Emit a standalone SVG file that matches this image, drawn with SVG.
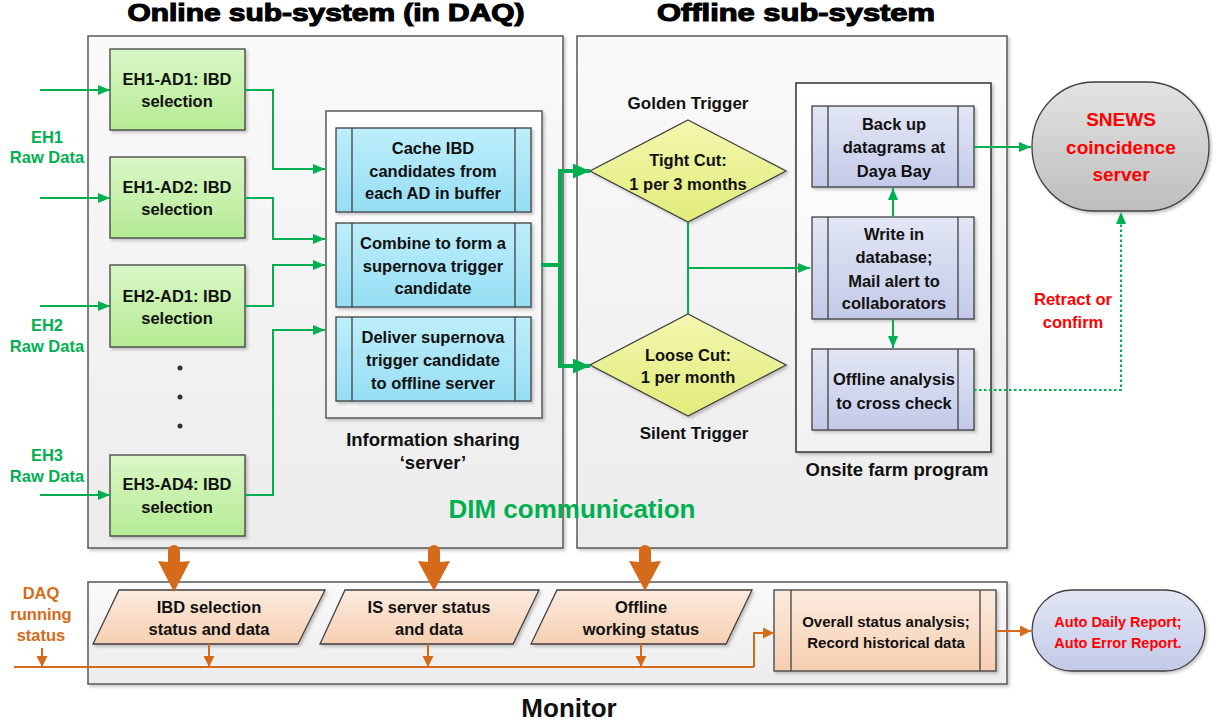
<svg xmlns="http://www.w3.org/2000/svg" width="1213" height="726" viewBox="0 0 1213 726">
<defs>
<style>
.t{font-family:"Liberation Sans",Arial,sans-serif;font-weight:bold;font-size:16.5px;text-anchor:middle;fill:#111}
.s15{font-size:15px}
.lbl{font-size:17px}
.lbl2{font-size:18.5px}
.g{fill:#00b050}
.o{fill:#d46a1a}
.r{fill:#ff0000}
.title{font-family:"Liberation Sans",Arial,sans-serif;font-weight:bold;font-size:23px;text-anchor:middle;fill:#000;stroke:#000;stroke-width:1.1}
.cont{stroke:#595959;stroke-width:1.5}
.box{stroke:#404040;stroke-width:1.3}
.in{stroke:#404040;stroke-width:1.3}
.gl{fill:none;stroke:#00b050;stroke-width:2}
.ol{fill:none;stroke:#d46a1a;stroke-width:2}
</style>
<linearGradient id="gCont" x1="0" y1="0" x2="0" y2="1"><stop offset="0" stop-color="#fafafa"/><stop offset="1" stop-color="#ececec"/></linearGradient>
<linearGradient id="gWhite" x1="0" y1="0" x2="0" y2="1"><stop offset="0" stop-color="#ffffff"/><stop offset="1" stop-color="#f2f2f2"/></linearGradient>
<linearGradient id="gGreen" x1="0" y1="0" x2="0" y2="1"><stop offset="0" stop-color="#d9f7c6"/><stop offset="1" stop-color="#b5eb93"/></linearGradient>
<linearGradient id="gBlue" x1="0" y1="0" x2="0" y2="1"><stop offset="0" stop-color="#bdeefa"/><stop offset="1" stop-color="#96def4"/></linearGradient>
<linearGradient id="gYel" x1="0" y1="0" x2="0" y2="1"><stop offset="0" stop-color="#f3f7b0"/><stop offset="1" stop-color="#e2ec7a"/></linearGradient>
<linearGradient id="gPur" x1="0" y1="0" x2="0" y2="1"><stop offset="0" stop-color="#e2e6f4"/><stop offset="1" stop-color="#c3cae8"/></linearGradient>
<linearGradient id="gOr" x1="0" y1="0" x2="0" y2="1"><stop offset="0" stop-color="#fcebde"/><stop offset="1" stop-color="#f6cfb1"/></linearGradient>
<linearGradient id="gGray" x1="0" y1="0" x2="0" y2="1"><stop offset="0" stop-color="#e3e3e3"/><stop offset="1" stop-color="#bdbdbd"/></linearGradient>
<filter id="sh" x="-10%" y="-10%" width="130%" height="130%"><feDropShadow dx="2" dy="2" stdDeviation="1.5" flood-color="#000" flood-opacity="0.22"/></filter>
<marker id="ga" markerUnits="userSpaceOnUse" markerWidth="13" markerHeight="12" refX="12" refY="5" orient="auto"><path d="M0,0 L12,5 L0,10 z" fill="#00b050"/></marker>
<marker id="gaB" markerUnits="userSpaceOnUse" markerWidth="18" markerHeight="16" refX="17" refY="7.5" orient="auto"><path d="M0,0 L17,7.5 L0,15 z" fill="#00b050"/></marker>
<marker id="oa" markerUnits="userSpaceOnUse" markerWidth="12" markerHeight="12" refX="11" refY="5.5" orient="auto"><path d="M0,0 L11,5.5 L0,11 z" fill="#d46a1a"/></marker>
</defs>
<rect width="1213" height="726" fill="#ffffff"/>

<!-- Titles -->
<text class="title" x="326" y="21" textLength="397" lengthAdjust="spacingAndGlyphs">Online sub-system (in DAQ)</text>
<text class="title" x="796" y="21" textLength="278" lengthAdjust="spacingAndGlyphs">Offline sub-system</text>

<!-- Containers -->
<g id="online">
<rect class="cont" x="88" y="36" width="475" height="512" fill="url(#gCont)" filter="url(#sh)"/>
</g>
<g id="offline">
<rect class="cont" x="577" y="36" width="430" height="512" fill="url(#gCont)" filter="url(#sh)"/>
</g>
<g id="monitor">
<rect class="cont" x="88" y="582" width="919" height="102" fill="url(#gCont)" filter="url(#sh)"/>
<text class="t" x="569" y="717" style="font-size:26px">Monitor</text>
</g>

<!-- Input labels -->
<g id="inputs">
<text class="t g" x="47" y="143">EH1</text>
<text class="t g" x="47" y="163">Raw Data</text>
<text class="t g" x="47" y="331">EH2</text>
<text class="t g" x="47" y="352">Raw Data</text>
<text class="t g" x="47" y="461">EH3</text>
<text class="t g" x="47" y="482">Raw Data</text>
</g>

<!-- Green selection boxes -->
<g id="eh1ad1">
<rect class="box" x="110" y="49" width="135" height="81" fill="url(#gGreen)" filter="url(#sh)"/>
<text class="t" x="177" y="85">EH1-AD1: IBD</text>
<text class="t" x="177" y="107">selection</text>
</g>
<g id="eh1ad2">
<rect class="box" x="110" y="157" width="135" height="81" fill="url(#gGreen)" filter="url(#sh)"/>
<text class="t" x="177" y="193">EH1-AD2: IBD</text>
<text class="t" x="177" y="215">selection</text>
</g>
<g id="eh2ad1">
<rect class="box" x="110" y="265" width="135" height="82" fill="url(#gGreen)" filter="url(#sh)"/>
<text class="t" x="177" y="302">EH2-AD1: IBD</text>
<text class="t" x="177" y="324">selection</text>
</g>
<g id="dots">
<circle cx="180" cy="368" r="2.5" fill="#333"/>
<circle cx="180" cy="397" r="2.5" fill="#333"/>
<circle cx="180" cy="426" r="2.5" fill="#333"/>
</g>
<g id="eh3ad4">
<rect class="box" x="110" y="455" width="135" height="81" fill="url(#gGreen)" filter="url(#sh)"/>
<text class="t" x="177" y="490">EH3-AD4: IBD</text>
<text class="t" x="177" y="513">selection</text>
</g>

<!-- Information sharing server -->
<g id="isserver">
<rect class="cont" x="326" y="111" width="216" height="307" fill="url(#gWhite)" filter="url(#sh)"/>
<text class="t lbl2" x="433" y="446">Information sharing</text>
<text class="t lbl2" x="433" y="469">‘server’</text>
</g>
<g id="cache">
<rect class="box" x="336" y="128" width="195" height="84" fill="url(#gBlue)" filter="url(#sh)"/>
<line class="in" x1="352" y1="128" x2="352" y2="212"/><line class="in" x1="515" y1="128" x2="515" y2="212"/>
<text class="t" x="433" y="154">Cache IBD</text>
<text class="t" x="433" y="177">candidates from</text>
<text class="t" x="433" y="199">each AD in buffer</text>
</g>
<g id="combine">
<rect class="box" x="336" y="223" width="195" height="84" fill="url(#gBlue)" filter="url(#sh)"/>
<line class="in" x1="352" y1="223" x2="352" y2="307"/><line class="in" x1="515" y1="223" x2="515" y2="307"/>
<text class="t" x="433" y="249">Combine to form a</text>
<text class="t" x="433" y="272">supernova trigger</text>
<text class="t" x="433" y="294">candidate</text>
</g>
<g id="deliver">
<rect class="box" x="336" y="317" width="195" height="84" fill="url(#gBlue)" filter="url(#sh)"/>
<line class="in" x1="352" y1="317" x2="352" y2="401"/><line class="in" x1="515" y1="317" x2="515" y2="401"/>
<text class="t" x="433" y="343">Deliver supernova</text>
<text class="t" x="433" y="366">trigger candidate</text>
<text class="t" x="433" y="389">to offline server</text>
</g>

<!-- Diamonds -->
<g id="tight">
<text class="t lbl" x="688" y="109">Golden Trigger</text>
<polygon class="box" points="688,120 786,171 688,222 590,171" fill="url(#gYel)" filter="url(#sh)"/>
<text class="t" x="688" y="166">Tight Cut:</text>
<text class="t" x="688" y="190">1 per 3 months</text>
</g>
<g id="loose">
<polygon class="box" points="688,314 786,365 688,416 590,365" fill="url(#gYel)" filter="url(#sh)"/>
<text class="t" x="688" y="361">Loose Cut:</text>
<text class="t" x="688" y="383">1 per month</text>
<text class="t lbl" x="694" y="439">Silent Trigger</text>
</g>

<!-- Onsite farm -->
<g id="onsite">
<rect x="796" y="83" width="195" height="369" fill="url(#gWhite)" stroke="#333" stroke-width="1.5" filter="url(#sh)"/>
<text class="t lbl2" x="897" y="476">Onsite farm program</text>
</g>
<g id="backup">
<rect class="box" x="812" y="106" width="162" height="81" fill="url(#gPur)" filter="url(#sh)"/>
<line class="in" x1="828" y1="106" x2="828" y2="187"/><line class="in" x1="958" y1="106" x2="958" y2="187"/>
<text class="t" x="894" y="130">Back up</text>
<text class="t" x="894" y="153">datagrams at</text>
<text class="t" x="894" y="177">Daya Bay</text>
</g>
<g id="write">
<rect class="box" x="812" y="217" width="162" height="102" fill="url(#gPur)" filter="url(#sh)"/>
<line class="in" x1="828" y1="217" x2="828" y2="319"/><line class="in" x1="958" y1="217" x2="958" y2="319"/>
<text class="t" x="894" y="240">Write in</text>
<text class="t" x="894" y="263">database;</text>
<text class="t" x="894" y="287">Mail alert to</text>
<text class="t" x="894" y="309">collaborators</text>
</g>
<g id="analysis">
<rect class="box" x="812" y="349" width="162" height="81" fill="url(#gPur)" filter="url(#sh)"/>
<line class="in" x1="828" y1="349" x2="828" y2="430"/><line class="in" x1="958" y1="349" x2="958" y2="430"/>
<text class="t" x="894" y="385">Offline analysis</text>
<text class="t" x="894" y="409">to cross check</text>
</g>

<!-- SNEWS -->
<g id="snews">
<rect x="1032" y="82" width="177" height="129" rx="62" ry="64" fill="url(#gGray)" stroke="#404040" stroke-width="1.3" filter="url(#sh)"/>
<text class="t r" x="1121" y="126" style="font-size:19px">SNEWS</text>
<text class="t r" x="1121" y="154" style="font-size:19px">coincidence</text>
<text class="t r" x="1121" y="181" style="font-size:19px">server</text>
</g>
<g id="retract">
<text class="t r" x="1073" y="305">Retract or</text>
<text class="t r" x="1073" y="328">confirm</text>
</g>

<!-- DIM -->
<text class="t g" x="572" y="518" style="font-size:26px">DIM communication</text>

<!-- Monitor items -->
<g id="daq">
<text class="t o" x="41" y="599">DAQ</text>
<text class="t o" x="41" y="620">running</text>
<text class="t o" x="41" y="641">status</text>
</g>
<g id="ibdstatus">
<polygon class="box" points="119,590 325,590 298,644 93,644" fill="url(#gOr)" filter="url(#sh)"/>
<text class="t" x="209" y="613">IBD selection</text>
<text class="t" x="209" y="635">status and data</text>
</g>
<g id="isstatus">
<polygon class="box" points="345,590 539,590 513,644 320,644" fill="url(#gOr)" filter="url(#sh)"/>
<text class="t" x="429" y="613">IS server status</text>
<text class="t" x="429" y="635">and data</text>
</g>
<g id="offstatus">
<polygon class="box" points="557,590 752,590 726,644 531,644" fill="url(#gOr)" filter="url(#sh)"/>
<text class="t" x="641" y="613">Offline</text>
<text class="t" x="641" y="635">working status</text>
</g>
<g id="overall">
<rect class="box" x="774" y="590" width="222" height="81" fill="url(#gOr)" filter="url(#sh)"/>
<line class="in" x1="791" y1="590" x2="791" y2="671"/><line class="in" x1="980" y1="590" x2="980" y2="671"/>
<text class="t s15" x="886" y="627">Overall status analysis;</text>
<text class="t s15" x="886" y="648">Record historical data</text>
</g>
<g id="autoreport">
<rect x="1032" y="590" width="173" height="81" rx="40" ry="40.5" fill="url(#gPur)" stroke="#404040" stroke-width="1.3" filter="url(#sh)"/>
<text class="t r" x="1118" y="627" style="font-size:14.5px">Auto Daily Report;</text>
<text class="t r" x="1118" y="648" style="font-size:14.5px">Auto Error Report.</text>
</g>

<!-- Connectors -->
<g id="connectors">
<line class="gl" x1="40" y1="90" x2="110" y2="90" marker-end="url(#ga)"/>
<line class="gl" x1="40" y1="198" x2="110" y2="198" marker-end="url(#ga)"/>
<line class="gl" x1="40" y1="306" x2="110" y2="306" marker-end="url(#ga)"/>
<line class="gl" x1="40" y1="495" x2="110" y2="495" marker-end="url(#ga)"/>
<polyline class="gl" points="245,90 273,90 273,169 325,169" marker-end="url(#ga)"/>
<polyline class="gl" points="245,198 273,198 273,239 325,239" marker-end="url(#ga)"/>
<polyline class="gl" points="245,306 273,306 273,265 325,265" marker-end="url(#ga)"/>
<polyline class="gl" points="245,495 273,495 273,330 325,330" marker-end="url(#ga)"/>
<line x1="541" y1="265" x2="560" y2="265" stroke="#00b050" stroke-width="4"/>
<polyline points="560,366 560,171 590,171" fill="none" stroke="#00b050" stroke-width="4" marker-end="url(#gaB)"/>
<polyline points="560,265 560,366 590,366" fill="none" stroke="#00b050" stroke-width="4" marker-end="url(#gaB)"/>
<line class="gl" x1="688" y1="222" x2="688" y2="314"/>
<line class="gl" x1="688" y1="268" x2="810" y2="268" marker-end="url(#ga)"/>
<line class="gl" x1="893" y1="217" x2="893" y2="188" marker-end="url(#ga)"/>
<line class="gl" x1="893" y1="319" x2="893" y2="348" marker-end="url(#ga)"/>
<line class="gl" x1="974" y1="147" x2="1031" y2="147" marker-end="url(#ga)"/>
<polyline class="gl" points="974,390 1121,390 1121,212" stroke-dasharray="2.5,2.5" marker-end="url(#ga)"/>
<g fill="#d46a1a" stroke="none">
<path d="M168,562 L168,551 A6,6 0 0 1 180,551 L180,562 L190,561 L174,592 L158,561 Z"/>
<path d="M428,562 L428,551 A6,6 0 0 1 440,551 L440,562 L450,561 L434,591 L418,561 Z"/>
<path d="M639,562 L639,551 A6,6 0 0 1 651,551 L651,562 L661,561 L645,591 L629,561 Z"/>
</g>
<line class="ol" x1="14" y1="667" x2="754" y2="667"/>
<polyline class="ol" points="754,667 754,633 774,633" marker-end="url(#oa)"/>
<line class="ol" x1="42" y1="648" x2="42" y2="667" marker-end="url(#oa)"/>
<line class="ol" x1="209" y1="644" x2="209" y2="667" marker-end="url(#oa)"/>
<line class="ol" x1="428" y1="644" x2="428" y2="667" marker-end="url(#oa)"/>
<line class="ol" x1="641" y1="644" x2="641" y2="667" marker-end="url(#oa)"/>
<line class="ol" x1="996" y1="631" x2="1031" y2="631" marker-end="url(#oa)"/>
</g>
</svg>
